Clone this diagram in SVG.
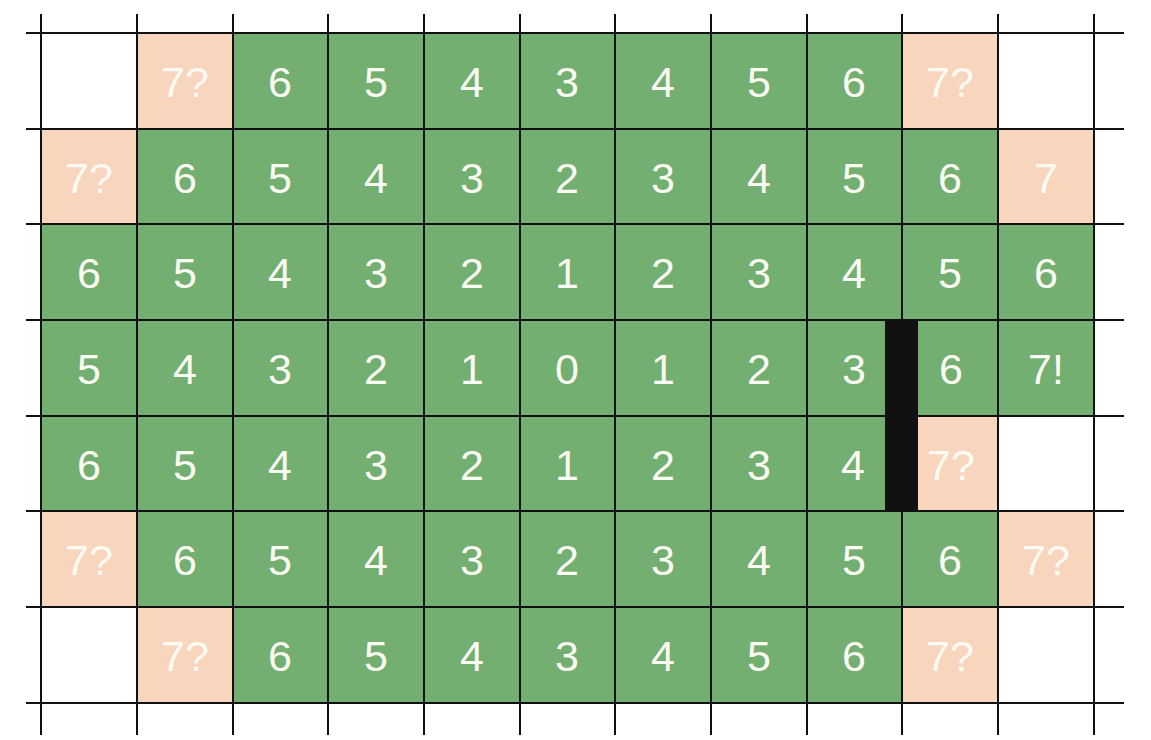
<svg xmlns="http://www.w3.org/2000/svg" width="1151" height="740" viewBox="0 0 1151 740">
<style>
.g{fill:#72af71;stroke:#111;stroke-width:2}
.p{fill:#f8d5bd;stroke:#111;stroke-width:2}
.t{font-family:"Liberation Sans",Arial,sans-serif;font-size:43px;fill:#fbfbf3;text-anchor:middle}
.l{stroke:#111;stroke-width:2}
</style>
<rect width="1151" height="740" fill="#ffffff"/>
<g id="grid">
<line class="l" x1="41" y1="14" x2="41" y2="735"/>
<line class="l" x1="137" y1="14" x2="137" y2="735"/>
<line class="l" x1="233" y1="14" x2="233" y2="735"/>
<line class="l" x1="328" y1="14" x2="328" y2="735"/>
<line class="l" x1="424" y1="14" x2="424" y2="735"/>
<line class="l" x1="520" y1="14" x2="520" y2="735"/>
<line class="l" x1="615" y1="14" x2="615" y2="735"/>
<line class="l" x1="711" y1="14" x2="711" y2="735"/>
<line class="l" x1="807" y1="14" x2="807" y2="735"/>
<line class="l" x1="902" y1="14" x2="902" y2="735"/>
<line class="l" x1="998" y1="14" x2="998" y2="735"/>
<line class="l" x1="1094" y1="14" x2="1094" y2="735"/>
<line class="l" x1="26" y1="33" x2="1124" y2="33"/>
<line class="l" x1="26" y1="129" x2="1124" y2="129"/>
<line class="l" x1="26" y1="224" x2="1124" y2="224"/>
<line class="l" x1="26" y1="320" x2="1124" y2="320"/>
<line class="l" x1="26" y1="416" x2="1124" y2="416"/>
<line class="l" x1="26" y1="511" x2="1124" y2="511"/>
<line class="l" x1="26" y1="607" x2="1124" y2="607"/>
<line class="l" x1="26" y1="703" x2="1124" y2="703"/>
</g>
<!-- Row 0 -->
<g id="r0c1"><rect class="p" x="137" y="33" width="96" height="96"/><text class="t" x="185" y="97">7?</text></g>
<g id="r0c2"><rect class="g" x="233" y="33" width="95" height="96"/><text class="t" x="280" y="97">6</text></g>
<g id="r0c3"><rect class="g" x="328" y="33" width="96" height="96"/><text class="t" x="376" y="97">5</text></g>
<g id="r0c4"><rect class="g" x="424" y="33" width="96" height="96"/><text class="t" x="472" y="97">4</text></g>
<g id="r0c5"><rect class="g" x="520" y="33" width="95" height="96"/><text class="t" x="567" y="97">3</text></g>
<g id="r0c6"><rect class="g" x="615" y="33" width="96" height="96"/><text class="t" x="663" y="97">4</text></g>
<g id="r0c7"><rect class="g" x="711" y="33" width="96" height="96"/><text class="t" x="759" y="97">5</text></g>
<g id="r0c8"><rect class="g" x="807" y="33" width="95" height="96"/><text class="t" x="854" y="97">6</text></g>
<g id="r0c9"><rect class="p" x="902" y="33" width="96" height="96"/><text class="t" x="950" y="97">7?</text></g>
<!-- Row 1 -->
<g id="r1c0"><rect class="p" x="41" y="129" width="96" height="95"/><text class="t" x="89" y="193">7?</text></g>
<g id="r1c1"><rect class="g" x="137" y="129" width="96" height="95"/><text class="t" x="185" y="193">6</text></g>
<g id="r1c2"><rect class="g" x="233" y="129" width="95" height="95"/><text class="t" x="280" y="193">5</text></g>
<g id="r1c3"><rect class="g" x="328" y="129" width="96" height="95"/><text class="t" x="376" y="193">4</text></g>
<g id="r1c4"><rect class="g" x="424" y="129" width="96" height="95"/><text class="t" x="472" y="193">3</text></g>
<g id="r1c5"><rect class="g" x="520" y="129" width="95" height="95"/><text class="t" x="567" y="193">2</text></g>
<g id="r1c6"><rect class="g" x="615" y="129" width="96" height="95"/><text class="t" x="663" y="193">3</text></g>
<g id="r1c7"><rect class="g" x="711" y="129" width="96" height="95"/><text class="t" x="759" y="193">4</text></g>
<g id="r1c8"><rect class="g" x="807" y="129" width="95" height="95"/><text class="t" x="854" y="193">5</text></g>
<g id="r1c9"><rect class="g" x="902" y="129" width="96" height="95"/><text class="t" x="950" y="193">6</text></g>
<g id="r1c10"><rect class="p" x="998" y="129" width="96" height="95"/><text class="t" x="1046" y="193">7</text></g>
<!-- Row 2 -->
<g id="r2c0"><rect class="g" x="41" y="224" width="96" height="96"/><text class="t" x="89" y="288">6</text></g>
<g id="r2c1"><rect class="g" x="137" y="224" width="96" height="96"/><text class="t" x="185" y="288">5</text></g>
<g id="r2c2"><rect class="g" x="233" y="224" width="95" height="96"/><text class="t" x="280" y="288">4</text></g>
<g id="r2c3"><rect class="g" x="328" y="224" width="96" height="96"/><text class="t" x="376" y="288">3</text></g>
<g id="r2c4"><rect class="g" x="424" y="224" width="96" height="96"/><text class="t" x="472" y="288">2</text></g>
<g id="r2c5"><rect class="g" x="520" y="224" width="95" height="96"/><text class="t" x="567" y="288">1</text></g>
<g id="r2c6"><rect class="g" x="615" y="224" width="96" height="96"/><text class="t" x="663" y="288">2</text></g>
<g id="r2c7"><rect class="g" x="711" y="224" width="96" height="96"/><text class="t" x="759" y="288">3</text></g>
<g id="r2c8"><rect class="g" x="807" y="224" width="95" height="96"/><text class="t" x="854" y="288">4</text></g>
<g id="r2c9"><rect class="g" x="902" y="224" width="96" height="96"/><text class="t" x="950" y="288">5</text></g>
<g id="r2c10"><rect class="g" x="998" y="224" width="96" height="96"/><text class="t" x="1046" y="288">6</text></g>
<!-- Row 3 -->
<g id="r3c0"><rect class="g" x="41" y="320" width="96" height="96"/><text class="t" x="89" y="384">5</text></g>
<g id="r3c1"><rect class="g" x="137" y="320" width="96" height="96"/><text class="t" x="185" y="384">4</text></g>
<g id="r3c2"><rect class="g" x="233" y="320" width="95" height="96"/><text class="t" x="280" y="384">3</text></g>
<g id="r3c3"><rect class="g" x="328" y="320" width="96" height="96"/><text class="t" x="376" y="384">2</text></g>
<g id="r3c4"><rect class="g" x="424" y="320" width="96" height="96"/><text class="t" x="472" y="384">1</text></g>
<g id="r3c5"><rect class="g" x="520" y="320" width="95" height="96"/><text class="t" x="567" y="384">0</text></g>
<g id="r3c6"><rect class="g" x="615" y="320" width="96" height="96"/><text class="t" x="663" y="384">1</text></g>
<g id="r3c7"><rect class="g" x="711" y="320" width="96" height="96"/><text class="t" x="759" y="384">2</text></g>
<g id="r3c8"><rect class="g" x="807" y="320" width="79" height="96"/><text class="t" x="854" y="384">3</text></g>
<g id="r3c9"><rect class="g" x="917" y="320" width="81" height="96"/><text class="t" x="951" y="384">6</text></g>
<g id="r3c10"><rect class="g" x="998" y="320" width="96" height="96"/><text class="t" x="1046" y="384">7!</text></g>
<!-- Row 4 -->
<g id="r4c0"><rect class="g" x="41" y="416" width="96" height="95"/><text class="t" x="89" y="480">6</text></g>
<g id="r4c1"><rect class="g" x="137" y="416" width="96" height="95"/><text class="t" x="185" y="480">5</text></g>
<g id="r4c2"><rect class="g" x="233" y="416" width="95" height="95"/><text class="t" x="280" y="480">4</text></g>
<g id="r4c3"><rect class="g" x="328" y="416" width="96" height="95"/><text class="t" x="376" y="480">3</text></g>
<g id="r4c4"><rect class="g" x="424" y="416" width="96" height="95"/><text class="t" x="472" y="480">2</text></g>
<g id="r4c5"><rect class="g" x="520" y="416" width="95" height="95"/><text class="t" x="567" y="480">1</text></g>
<g id="r4c6"><rect class="g" x="615" y="416" width="96" height="95"/><text class="t" x="663" y="480">2</text></g>
<g id="r4c7"><rect class="g" x="711" y="416" width="96" height="95"/><text class="t" x="759" y="480">3</text></g>
<g id="r4c8"><rect class="g" x="807" y="416" width="79" height="95"/><text class="t" x="853" y="480">4</text></g>
<g id="r4c9"><rect class="p" x="917" y="416" width="81" height="95"/><text class="t" x="951" y="480">7?</text></g>
<!-- Row 5 -->
<g id="r5c0"><rect class="p" x="41" y="511" width="96" height="96"/><text class="t" x="89" y="575">7?</text></g>
<g id="r5c1"><rect class="g" x="137" y="511" width="96" height="96"/><text class="t" x="185" y="575">6</text></g>
<g id="r5c2"><rect class="g" x="233" y="511" width="95" height="96"/><text class="t" x="280" y="575">5</text></g>
<g id="r5c3"><rect class="g" x="328" y="511" width="96" height="96"/><text class="t" x="376" y="575">4</text></g>
<g id="r5c4"><rect class="g" x="424" y="511" width="96" height="96"/><text class="t" x="472" y="575">3</text></g>
<g id="r5c5"><rect class="g" x="520" y="511" width="95" height="96"/><text class="t" x="567" y="575">2</text></g>
<g id="r5c6"><rect class="g" x="615" y="511" width="96" height="96"/><text class="t" x="663" y="575">3</text></g>
<g id="r5c7"><rect class="g" x="711" y="511" width="96" height="96"/><text class="t" x="759" y="575">4</text></g>
<g id="r5c8"><rect class="g" x="807" y="511" width="95" height="96"/><text class="t" x="854" y="575">5</text></g>
<g id="r5c9"><rect class="g" x="902" y="511" width="96" height="96"/><text class="t" x="950" y="575">6</text></g>
<g id="r5c10"><rect class="p" x="998" y="511" width="96" height="96"/><text class="t" x="1046" y="575">7?</text></g>
<!-- Row 6 -->
<g id="r6c1"><rect class="p" x="137" y="607" width="96" height="96"/><text class="t" x="185" y="671">7?</text></g>
<g id="r6c2"><rect class="g" x="233" y="607" width="95" height="96"/><text class="t" x="280" y="671">6</text></g>
<g id="r6c3"><rect class="g" x="328" y="607" width="96" height="96"/><text class="t" x="376" y="671">5</text></g>
<g id="r6c4"><rect class="g" x="424" y="607" width="96" height="96"/><text class="t" x="472" y="671">4</text></g>
<g id="r6c5"><rect class="g" x="520" y="607" width="95" height="96"/><text class="t" x="567" y="671">3</text></g>
<g id="r6c6"><rect class="g" x="615" y="607" width="96" height="96"/><text class="t" x="663" y="671">4</text></g>
<g id="r6c7"><rect class="g" x="711" y="607" width="96" height="96"/><text class="t" x="759" y="671">5</text></g>
<g id="r6c8"><rect class="g" x="807" y="607" width="95" height="96"/><text class="t" x="854" y="671">6</text></g>
<g id="r6c9"><rect class="p" x="902" y="607" width="96" height="96"/><text class="t" x="950" y="671">7?</text></g>
<g id="wall"><rect x="886" y="320" width="31" height="192" fill="#111111"/></g>
</svg>
